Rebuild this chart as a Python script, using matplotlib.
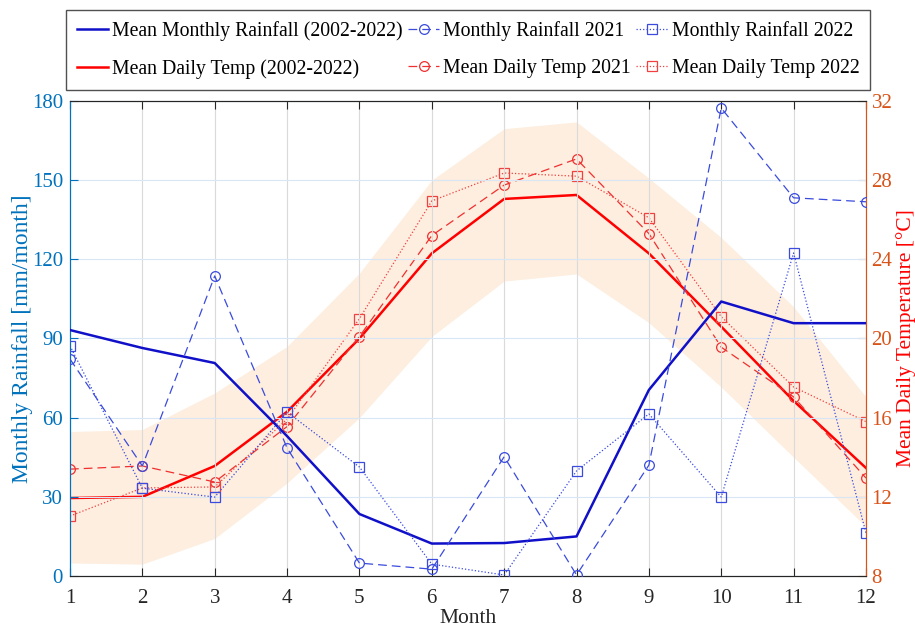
import numpy as np
import matplotlib.pyplot as plt

plt.rcParams['font.family'] = ['Liberation Serif', 'DejaVu Serif']

# Data
months = np.arange(1, 13)

rain_mean = [93.2, 86.4, 80.7, 53.0, 23.5, 12.3, 12.5, 15.0, 70.5, 104.0, 95.8, 95.8]
rain_2021 = [82.2, 41.7, 113.7, 48.5, 4.9, 2.6, 45.2, 0.4, 42.0, 177.3, 143.3, 141.8]
rain_2022 = [87.2, 33.3, 29.9, 62.1, 41.3, 4.5, 0.4, 39.8, 61.4, 29.9, 122.4, 16.3]

temp_mean = [11.94, 12.0, 13.56, 16.3, 20.0, 24.3, 27.05, 27.25, 24.3, 20.6, 16.85, 13.46]
temp_2021 = [13.4, 13.56, 12.75, 15.55, 20.1, 25.2, 27.75, 29.07, 25.3, 19.56, 17.05, 12.95]
temp_2022 = [11.03, 12.45, 12.5, 15.93, 21.0, 26.95, 28.36, 28.2, 26.1, 21.1, 17.55, 15.8]

temp_upper = [15.3, 15.4, 17.25, 19.6, 23.3, 28.0, 30.6, 30.94, 28.1, 25.1, 21.6, 17.05]
temp_lower = [8.66, 8.6, 9.9, 12.7, 16.0, 20.1, 22.9, 23.26, 20.8, 17.55, 14.0, 10.5]

left_ticks = [0, 30, 60, 90, 120, 150, 180]
right_ticks = [8, 12, 16, 20, 24, 28, 32]

blue_axis = '#0072BD'
orange_axis = '#D95319'
dark_blue = '#1010C8'
light_blue = '#3A4BDD'

fig = plt.figure(figsize=(9.15, 6.27), dpi=100)
ax1 = fig.add_axes([0.0765, 0.0813, 0.8699, 0.7577])
ax2 = ax1.twinx()

# temperature axis goes underneath, rainfall on top
ax1.set_zorder(ax2.get_zorder() + 1)
ax1.patch.set_visible(False)

# Temperature (right axis)
ax2.fill_between(months, temp_lower, temp_upper, color='#FDEEDF', linewidth=0, zorder=0)
l_tm, = ax2.plot(months, temp_mean, '-', color='red', lw=1.8, zorder=3)
l_t21, = ax2.plot(months, temp_2021, '--', color='#F03030', lw=0.9, marker='o',
                  ms=7, mfc='none', mec='#F03030', mew=0.9, dashes=(7, 4), zorder=3)
l_t22, = ax2.plot(months, temp_2022, ':', color='#F04040', lw=0.9, marker='s',
                  ms=7, mfc='none', mec='#F04040', mew=0.9, zorder=3)

# Rainfall (left axis)
l_rm, = ax1.plot(months, rain_mean, '-', color=dark_blue, lw=1.8, zorder=3)
l_r21, = ax1.plot(months, rain_2021, '--', color=light_blue, lw=0.9, marker='o',
                  ms=7, mfc='none', mec=light_blue, mew=0.9, dashes=(7, 4), zorder=3)
l_r22, = ax1.plot(months, rain_2022, ':', color=light_blue, lw=0.9, marker='s',
                  ms=7, mfc='none', mec=light_blue, mew=0.9, zorder=3)

ax1.set_xlim(1, 12)
ax1.set_ylim(0, 180)
ax2.set_ylim(8, 32)
ax1.set_xticks(months)
ax1.set_yticks(left_ticks)
ax2.set_yticks(right_ticks)

ax1.grid(axis='x', color='#DADADA', lw=0.8)
ax1.grid(axis='y', color='#D8E6F6', lw=0.8)
ax1.set_axisbelow(True)

ax1.tick_params(axis='x', direction='in', length=6, top=True, labelsize=15,
                colors='#262626', pad=9)
ax1.tick_params(axis='y', direction='in', length=6, labelsize=15, colors=blue_axis, pad=5)
ax2.tick_params(axis='y', direction='in', length=6, labelsize=15, colors=orange_axis, pad=4)

for ax in (ax1, ax2):
    ax.spines['top'].set_color('#262626')
    ax.spines['bottom'].set_color('#262626')
    ax.spines['left'].set_color(blue_axis)
    ax.spines['right'].set_color(orange_axis)

ax1.set_xlabel('Month', fontsize=15.5, color='#262626', labelpad=1)
ax1.set_ylabel('Monthly Rainfall [mm/month]', fontsize=17, color=blue_axis, labelpad=-1)
ax2.set_ylabel('Mean Daily Temperature [°C]', fontsize=15.5, color='red', labelpad=3)

handles = [l_rm, l_tm, l_r21, l_t21, l_r22, l_t22]
labels = ['Mean Monthly Rainfall (2002-2022)', 'Mean Daily Temp (2002-2022)',
          'Monthly Rainfall 2021', 'Mean Daily Temp 2021',
          'Monthly Rainfall 2022', 'Mean Daily Temp 2022']
leg = fig.legend(handles, labels, ncol=3, loc='upper left',
                 bbox_to_anchor=(0.072, 0.856, 0.879, 0.128), mode='expand',
                 fontsize=14.2, frameon=True, fancybox=False, edgecolor='#262626',
                 handlelength=1.6, handletextpad=0.2, columnspacing=0.3,
                 borderpad=0.55, labelspacing=0.92, borderaxespad=0)
leg.get_frame().set_linewidth(1.0)

plt.savefig('out.png', dpi=100)
